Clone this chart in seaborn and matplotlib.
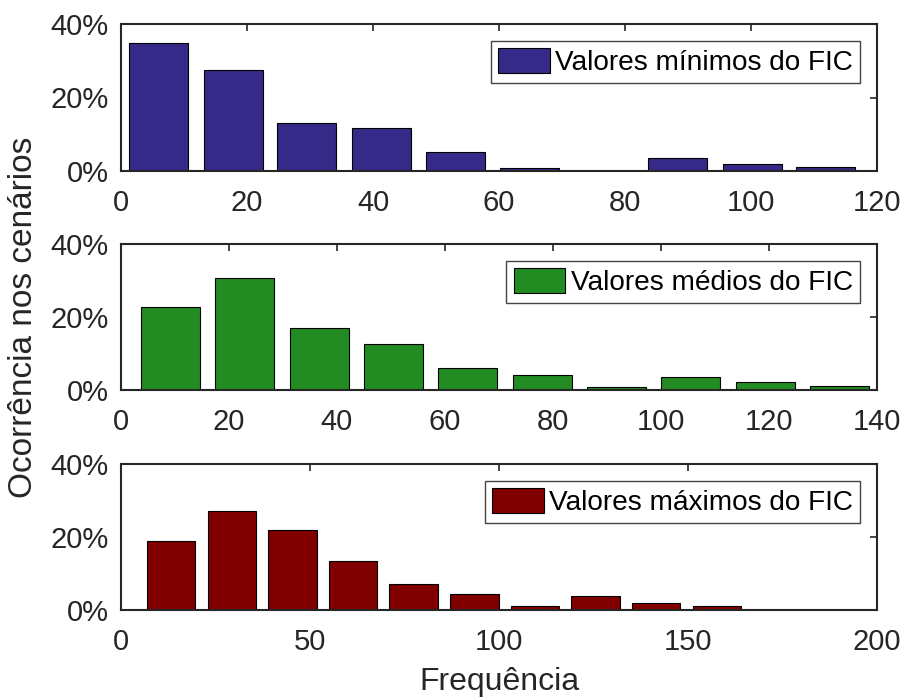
import matplotlib
matplotlib.use("Agg")
import matplotlib.pyplot as plt
import matplotlib.ticker as mticker
import seaborn as sns
import pandas as pd

# ---- data ----
min_centers = [6.0, 17.8, 29.5, 41.3, 53.1, 64.9, 76.6, 88.4, 100.2, 111.9]
min_values = [34.9, 27.5, 13.1, 11.8, 5.1, 0.9, 0.0, 3.6, 2.0, 1.1]

med_centers = [9.2, 22.9, 36.7, 50.5, 64.2, 78.0, 91.8, 105.5, 119.3, 133.1]
med_values = [22.8, 30.6, 16.9, 12.5, 6.0, 4.0, 0.8, 3.5, 2.1, 1.2]

max_centers = [13.3, 29.3, 45.4, 61.4, 77.4, 93.5, 109.5, 125.5, 141.6, 157.6]
max_values = [18.8, 27.2, 21.8, 13.3, 7.0, 4.3, 1.2, 3.7, 2.0, 1.2]

labels = ["Valores mínimos do FIC", "Valores médios do FIC", "Valores máximos do FIC"]
colors = ["#352A87", "#228B22", "#800000"]
xlims = [120, 140, 200]
xtick_steps = [20, 20, 50]
yticks = [0, 20, 40]

sns.set_theme(style="white")
plt.rcParams["font.family"] = ["Liberation Sans", "DejaVu Sans"]
TXT = "#262626"
plt.rcParams.update({
    "axes.edgecolor": TXT,
    "xtick.color": TXT,
    "ytick.color": TXT,
    "axes.labelcolor": TXT,
    "text.color": TXT,
})

fig = plt.figure(figsize=(9.03, 6.98), dpi=100)
positions = [
    [121 / 903, 1 - 171 / 698, 756 / 903, 147 / 698],
    [121 / 903, 1 - 390 / 698, 756 / 903, 146 / 698],
    [121 / 903, 1 - 610 / 698, 756 / 903, 146 / 698],
]

series = [(min_centers, min_values), (med_centers, med_values), (max_centers, max_values)]
axes = []
for i, ((cx, vals), pos) in enumerate(zip(series, positions)):
    ax = fig.add_axes(pos)
    df = pd.DataFrame({"x": cx, "y": vals})
    sns.barplot(data=df, x="x", y="y", native_scale=True, width=0.8,
                color=colors[i], saturation=1, edgecolor="black", linewidth=0.8,
                ax=ax, label=labels[i])
    ax.set_xlim(0, xlims[i])
    ax.set_ylim(0, 40)
    ax.set_xticks(list(range(0, xlims[i] + 1, xtick_steps[i])))
    ax.set_yticks(yticks)
    ax.yaxis.set_major_formatter(mticker.FuncFormatter(lambda v, p: f"{v:.0f}%"))
    ax.tick_params(direction="in", top=True, right=True, length=5, width=1.2,
                   labelsize=21, colors=TXT)
    ax.tick_params(axis="x", pad=13)
    ax.tick_params(axis="y", pad=9)
    ax.set_axisbelow(False)
    for s in ax.spines.values():
        s.set_visible(True)
        s.set_linewidth(1.5)
        s.set_color(TXT)
    ax.set_xlabel("")
    ax.set_ylabel("")
    leg = ax.legend(loc="upper right", fontsize=20.2, frameon=True, fancybox=False,
                    borderaxespad=0.6, borderpad=0.25, handlelength=1.85,
                    handleheight=1.0, handletextpad=0.2, framealpha=1)
    leg.get_frame().set_edgecolor("#444444")
    leg.get_frame().set_linewidth(1.0)
    for t in leg.get_texts():
        t.set_color("black")
    axes.append(ax)

axes[1].set_ylabel("Ocorrência nos cenários", fontsize=24, labelpad=8)
axes[2].set_xlabel("Frequência", fontsize=23, labelpad=8)

fig.savefig("out.png", dpi=100)
